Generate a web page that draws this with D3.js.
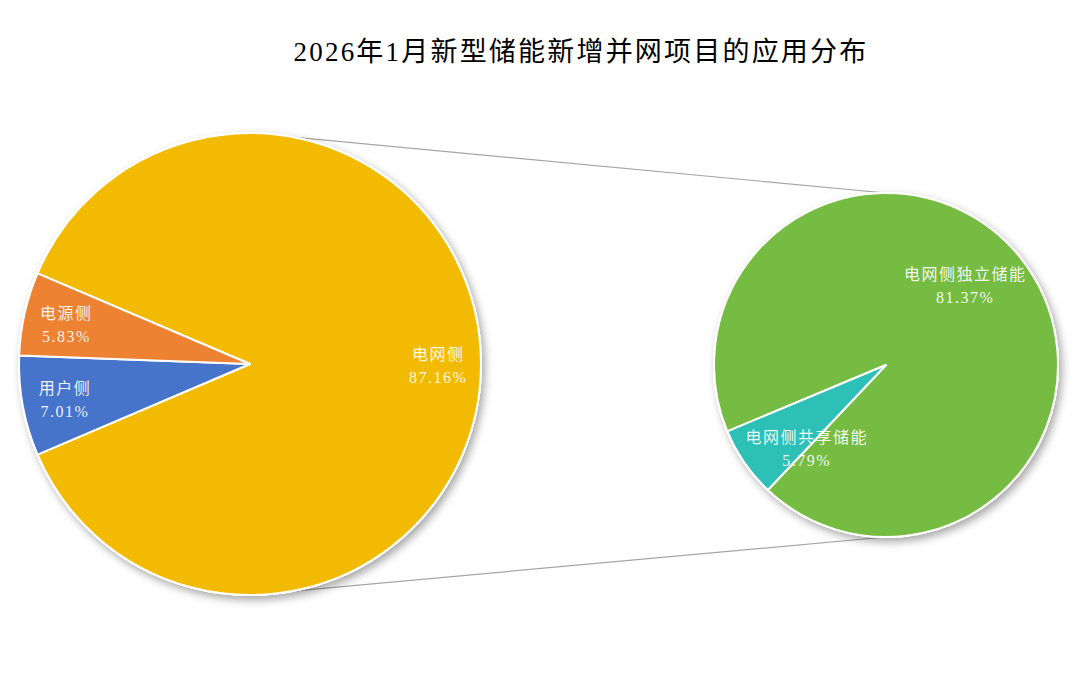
<!DOCTYPE html>
<html><head><meta charset="utf-8">
<script src="https://cdn.jsdelivr.net/npm/d3@7"></script>
<style>html,body{margin:0;padding:0;background:#fff;}svg{display:block;}</style>
</head><body>
<script>
const title = "2026年1月新型储能新增并网项目的应用分布";
const mainCategories = ["电网侧", "用户侧", "电源侧"];
const mainValues = [87.16, 7.01, 5.83];
const mainColors = ["#F2BB02", "#4674CB", "#EE8233"];
const subCategories = ["电网侧独立储能", "电网侧共享储能"];
const subValues = [81.37, 5.79];
const subColors = ["#76BC43", "#2DC0B6"];

const W = 1080, H = 676;
const svg = d3.select("body").append("svg").attr("width", W).attr("height", H);
const defs = svg.append("defs");
const f = defs.append("filter").attr("id","sh").attr("x","-20%").attr("y","-20%").attr("width","140%").attr("height","140%");
f.append("feDropShadow").attr("dx",3).attr("dy",4).attr("stdDeviation",4).attr("flood-color","#000").attr("flood-opacity",0.35);

const font = "'Liberation Serif','Noto Sans CJK SC',serif";
svg.append("text").attr("x", 581).attr("y", 61).attr("text-anchor","middle")
  .attr("font-family", font).attr("font-size", 27).attr("letter-spacing", 2.2).attr("fill","#000").text(title);

const rad = d => d * Math.PI / 180;
const L = {cx: 250, cy: 364, r: 231};
const R = {cx: 886, cy: 365, r: 172};

// connector lines
svg.append("line").attr("x1", L.cx).attr("y1", L.cy - L.r).attr("x2", R.cx).attr("y2", R.cy - R.r)
  .attr("stroke","#A6A6A6").attr("stroke-width",1.2);
svg.append("line").attr("x1", L.cx).attr("y1", L.cy + L.r).attr("x2", R.cx).attr("y2", R.cy + R.r)
  .attr("stroke","#A6A6A6").attr("stroke-width",1.2);

const total = d3.sum(mainValues);
const mainSpan = mainValues[0] / total * 360;
const mainPie = d3.pie().sort(null).startAngle(rad(90 - mainSpan/2)).endAngle(rad(90 - mainSpan/2 + 360));
const subPie = d3.pie().sort(null).startAngle(rad(-112.7)).endAngle(rad(-112.7 + 360));

function drawPie(cfg, cats, vals, colors, pieGen, labelPos) {
  const g = svg.append("g").attr("transform", `translate(${cfg.cx},${cfg.cy})`);
  const arc = d3.arc().innerRadius(0).outerRadius(cfg.r);
  g.append("circle").attr("r", cfg.r + 1).attr("fill","#fff").attr("filter","url(#sh)");
  const data = pieGen.value(d=>d.v)(vals.map((v,i)=>({v,i})));
  g.selectAll("path").data(data).join("path")
    .attr("d", arc).attr("fill", d => colors[d.data.i])
    .attr("stroke","#fff").attr("stroke-width",2).attr("stroke-linejoin","round");
  data.forEach(d => {
    const p = labelPos(d);
    const x = Math.sin(p.a) * p.k * cfg.r, y = -Math.cos(p.a) * p.k * cfg.r;
    const t = g.append("text").attr("text-anchor","middle").attr("font-family", font)
      .attr("font-size", 16).attr("letter-spacing", 1.5).attr("fill","#fff").attr("fill-opacity",0.92);
    t.append("tspan").attr("x", x).attr("y", y - 4).text(cats[d.data.i]);
    t.append("tspan").attr("x", x).attr("y", y + 19).text(d3.format(".2f")(vals[d.data.i]) + "%");
  });
}

drawPie(L, mainCategories, mainValues, mainColors, mainPie, d => ({a: (d.startAngle + d.endAngle)/2, k: 0.815}));
drawPie(R, subCategories, subValues, subColors, subPie, d => d.data.i === 0
  ? {a: rad(44.3), k: 0.66}
  : {a: (d.startAngle + d.endAngle)/2 - rad(11.4), k: 0.665});
</script>
</body></html>
